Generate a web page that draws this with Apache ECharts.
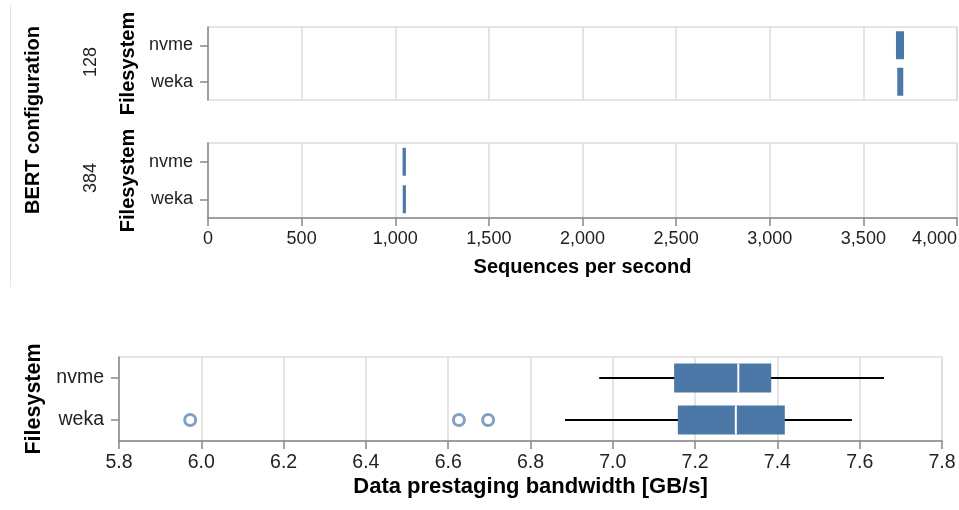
<!DOCTYPE html>
<html>
<head>
<meta charset="utf-8">
<script src="https://cdn.jsdelivr.net/npm/echarts@6/dist/echarts.min.js"></script>
<style>
  html, body { margin: 0; padding: 0; background: #fff; }
  #main { width: 959px; height: 510px; }
</style>
</head>
<body>
<div id="main"></div>
<script>
// categories
var filesystems = ['nvme', 'weka'];
var bertConfigs = ['128', '384'];

// box stats per filesystem: [min, q1, median, q3, max]
var seq128 = [
    [3674, 3674, 3676, 3717, 3717],
    [3681, 3681, 3683, 3713, 3713]
];
var seq384 = [
    [1039, 1039, 1040, 1057, 1057],
    [1040, 1040, 1041, 1057, 1057]
];
var bandwidth = [
    [6.967, 7.149, 7.305, 7.385, 7.659],
    [6.884, 7.158, 7.299, 7.418, 7.581]
];
// outliers: [value, filesystem]
var bandwidthOutliers = [
    [5.973, 'weka'],
    [6.626, 'weka'],
    [6.697, 'weka']
];

var FONT = 'Liberation Sans, Arial, Helvetica, sans-serif';
var BLUE = '#4c78a8';

function toRows(stats) {
    return stats.map(function (s, i) { return [i].concat(s); });
}

// 箱线图（自定义绘制：黑色须线、蓝色箱体、白色中位线）
function boxRenderer(boxPx) {
    return function (params, api) {
        var cat = api.value(0);
        var lo = api.coord([api.value(1), cat]);
        var q1 = api.coord([api.value(2), cat]);
        var med = api.coord([api.value(3), cat]);
        var q3 = api.coord([api.value(4), cat]);
        var hi = api.coord([api.value(5), cat]);
        var y = q1[1];
        var children = [];
        if (hi[0] - lo[0] > q3[0] - q1[0] + 0.5) {
            children.push({
                type: 'line',
                shape: { x1: lo[0], y1: y, x2: hi[0], y2: y },
                style: { stroke: '#000', lineWidth: 2 }
            });
        }
        children.push({
            type: 'rect',
            shape: { x: q1[0], y: y - boxPx / 2, width: Math.max(q3[0] - q1[0], 2), height: boxPx },
            style: { fill: BLUE }
        });
        if (q3[0] - q1[0] > 12) {
            children.push({
                type: 'line',
                shape: { x1: med[0], y1: y - boxPx / 2, x2: med[0], y2: y + boxPx / 2 },
                style: { stroke: '#fff', lineWidth: 2 }
            });
        }
        return { type: 'group', children: children };
    };
}

function valueAxis(gridIndex, min, max, interval, showAxis, labelSize, extra) {
    var ax = {
        type: 'value',
        gridIndex: gridIndex,
        min: min,
        max: max,
        interval: interval,
        axisLine: { show: showAxis, lineStyle: { color: '#888', width: 1.5 } },
        axisTick: { show: showAxis, length: 8, lineStyle: { color: '#888', width: 1.5 } },
        axisLabel: { show: showAxis, color: '#222', fontSize: labelSize, fontFamily: FONT, margin: 12 },
        splitLine: { show: true, lineStyle: { color: '#ddd', width: 1.5 } }
    };
    return Object.assign(ax, extra || {});
}

function catAxis(gridIndex, labelSize, titleSize, gap) {
    return {
        type: 'category',
        gridIndex: gridIndex,
        data: filesystems,
        inverse: true,
        name: 'Filesystem',
        nameLocation: 'middle',
        nameRotate: 90,
        nameGap: gap,
        nameTextStyle: { fontSize: titleSize, fontWeight: 'bold', fontFamily: FONT, color: '#000' },
        axisLine: { show: true, lineStyle: { color: '#888', width: 1.5 } },
        axisTick: { show: true, alignWithLabel: true, length: 8, lineStyle: { color: '#888', width: 1.5 } },
        axisLabel: { color: '#222', fontSize: labelSize, fontFamily: FONT, margin: 15 },
        splitLine: { show: false }
    };
}

var dom = document.getElementById('main');
var myChart = echarts.init(dom, null, { renderer: 'canvas' });

var option = {
    animation: false,
    grid: [
        { left: 208, top: 27, width: 749, height: 73, show: true, borderColor: '#ddd', borderWidth: 1.5, outerBoundsMode: 'none', containLabel: false },
        { left: 208, top: 143, width: 749, height: 75, show: true, borderColor: '#ddd', borderWidth: 1.5, outerBoundsMode: 'none', containLabel: false },
        { left: 119, top: 357, width: 823, height: 84, show: true, borderColor: '#ddd', borderWidth: 1.5, outerBoundsMode: 'none', containLabel: false }
    ],
    xAxis: [
        valueAxis(0, 0, 4000, 500, false, 18),
        valueAxis(1, 0, 4000, 500, true, 18, {
            name: 'Sequences per second',
            nameLocation: 'middle',
            nameGap: 39,
            nameTextStyle: { fontSize: 20, fontWeight: 'bold', fontFamily: FONT, color: '#000' }
        }),
        valueAxis(2, 5.8, 7.8, 0.2, true, 19.5, {
            name: 'Data prestaging bandwidth [GB/s]',
            nameLocation: 'middle',
            nameGap: 35,
            nameTextStyle: { fontSize: 22, fontWeight: 'bold', fontFamily: FONT, color: '#000' }
        })
    ],
    yAxis: [
        catAxis(0, 18, 20, 64),
        catAxis(1, 18, 20, 64),
        catAxis(2, 19.5, 21.5, 74)
    ],
    series: [
        {
            type: 'custom',
            xAxisIndex: 0, yAxisIndex: 0,
            renderItem: boxRenderer(28),
            encode: { x: [1, 2, 3, 4, 5], y: 0 },
            data: toRows(seq128)
        },
        {
            type: 'custom',
            xAxisIndex: 1, yAxisIndex: 1,
            renderItem: boxRenderer(28),
            encode: { x: [1, 2, 3, 4, 5], y: 0 },
            data: toRows(seq384)
        },
        {
            type: 'custom',
            xAxisIndex: 2, yAxisIndex: 2,
            renderItem: boxRenderer(29),
            encode: { x: [1, 2, 3, 4, 5], y: 0 },
            data: toRows(bandwidth)
        },
        {
            type: 'scatter',
            xAxisIndex: 2, yAxisIndex: 2,
            symbol: 'circle',
            symbolSize: 11,
            itemStyle: { color: 'rgba(0,0,0,0)', borderColor: BLUE, borderWidth: 3, opacity: 0.7 },
            data: bandwidthOutliers
        }
    ],
    graphic: [
        {
            type: 'line',
            shape: { x1: 10.5, y1: 5, x2: 10.5, y2: 287 },
            style: { stroke: '#e4e4e4', lineWidth: 1 }
        },
        {
            type: 'text', x: 33, y: 120, rotation: Math.PI / 2,
            style: { text: 'BERT configuration', fontSize: 20, fontWeight: 'bold', fontFamily: FONT, fill: '#000', align: 'center', verticalAlign: 'middle' }
        },
        {
            type: 'text', x: 91, y: 62, rotation: Math.PI / 2,
            style: { text: bertConfigs[0], fontSize: 18, fontFamily: FONT, fill: '#222', align: 'center', verticalAlign: 'middle' }
        },
        {
            type: 'text', x: 91, y: 178, rotation: Math.PI / 2,
            style: { text: bertConfigs[1], fontSize: 18, fontFamily: FONT, fill: '#222', align: 'center', verticalAlign: 'middle' }
        }
    ]
};

// 最后一个刻度标签右对齐；带宽保留一位小数
option.xAxis[1].axisLabel.alignMaxLabel = 'right';
option.xAxis[2].axisLabel.formatter = function (v) { return v.toFixed(1); };

if (option && typeof option === 'object') {
    myChart.setOption(option);
}

window.addEventListener('resize', myChart.resize);
</script>
</body>
</html>
